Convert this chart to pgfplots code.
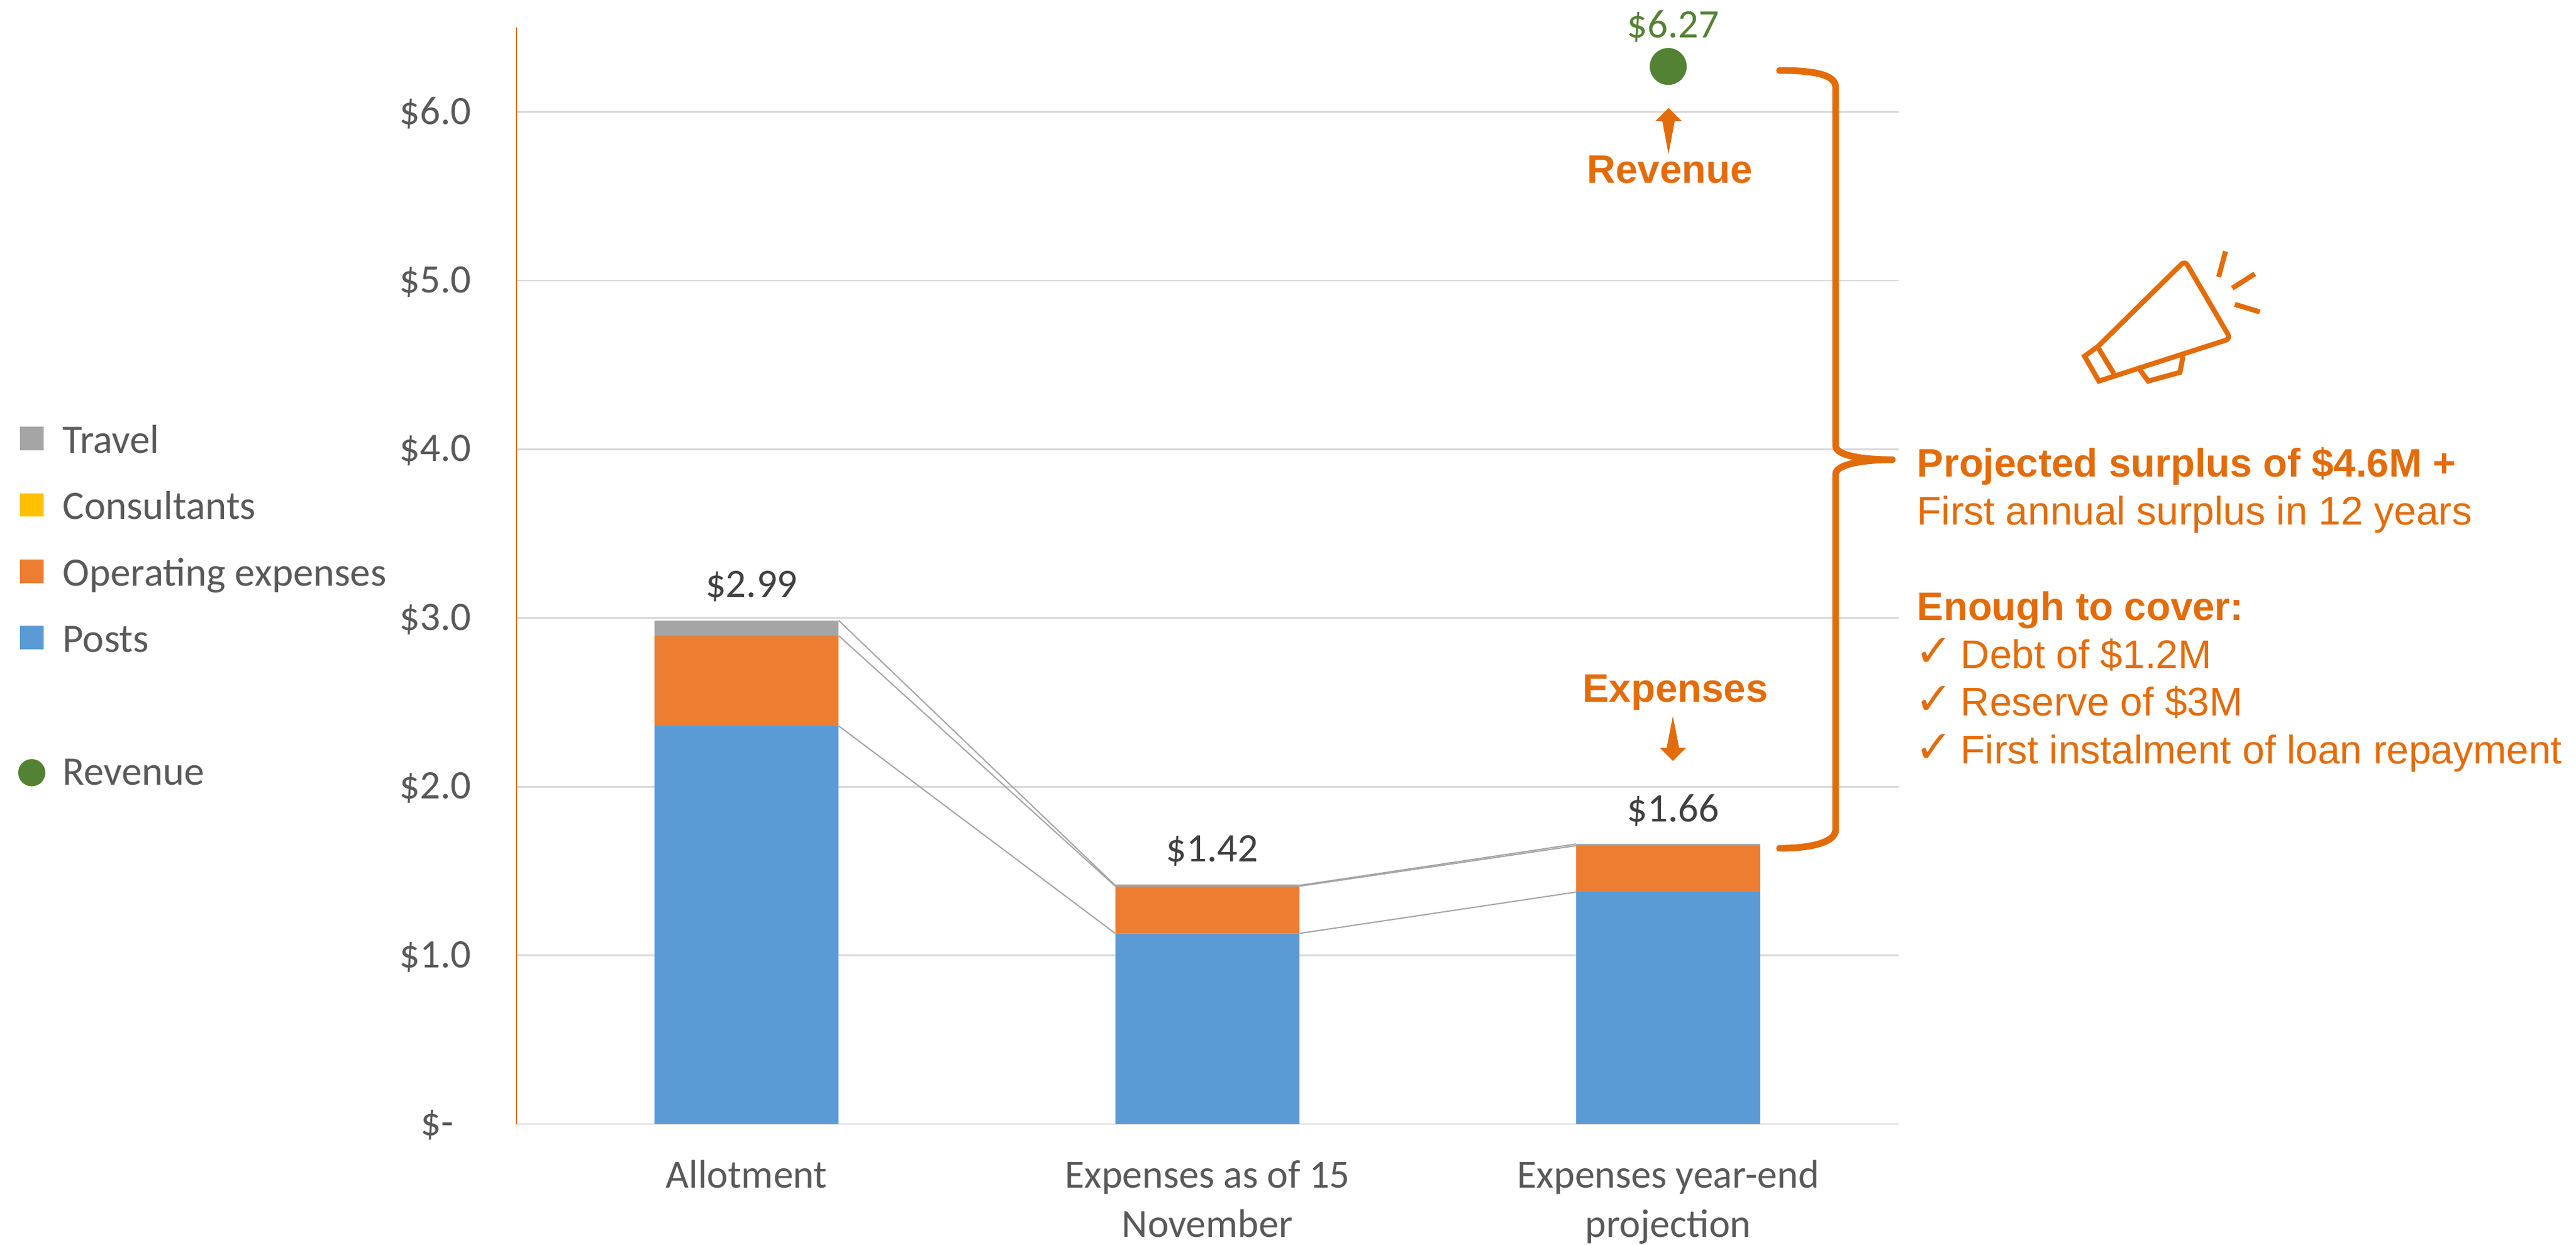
\documentclass[border=0pt]{standalone}
\usepackage{pgfplots}
\pgfplotsset{compat=1.18}
\usepackage{pgfplotstable}
\usepackage{fontspec}
\setmainfont{Carlito}
\newfontfamily\arial{Liberation Sans}
\newfontfamily\dejavu{DejaVu Sans}
\definecolor{posts}{HTML}{5B9BD5}
\definecolor{opex}{HTML}{ED7D31}
\definecolor{consult}{HTML}{FFC000}
\definecolor{travel}{HTML}{A5A5A5}
\definecolor{rev}{HTML}{548235}
\definecolor{note}{HTML}{E36C0A}
\definecolor{gridc}{HTML}{D9D9D9}
\definecolor{lab}{HTML}{595959}
\definecolor{dark}{HTML}{404040}
\pgfplotstableread{
x posts opex consult travel
0 2.36 0.535 0.00 0.09
1 1.13 0.28 0.00 0.01
2 1.375 0.275 0.00 0.01
}\bars
\pgfplotstableread{
x y label
0 2.99 {\$2.99}
1 1.42 {\$1.42}
2 1.66 {\$1.66}
}\totals
\pgfplotstableread{
x y label
2 6.27 {\$6.27}
}\revenue
\pgfplotsset{
  sq/.style={legend image code/.code={\fill[##1] (0.75pt,-2.65pt) rectangle (9.75pt,6.35pt);}},
  ci/.style={legend image code/.code={\fill[##1] (5.25pt,0.9pt) circle (5.25pt);}},
  geom/.style={at={(206.875pt,48.25pt)}, anchor=south west,
    scale only axis, width=554.125pt, height=439.4pt,
    xmin=-0.5, xmax=2.5, ymin=0, ymax=6.5, clip=false},
}
\begin{document}
\begin{tikzpicture}
\useasboundingbox (0,0) rectangle (1032.5pt,498.75pt);
\begin{axis}[
  geom,
  ybar stacked, bar width=73.75pt,
  axis lines=left, axis line style={-},
  x axis line style={gridc,line width=0.7pt},
  y axis line style={note,line width=0.5pt},
  xtick={0,1,2},
  xticklabels={Allotment,{Expenses as of 15\\November},{Expenses year-end\\projection}},
  xticklabel style={align=center,font=\fontsize{16}{19.8}\selectfont,text=lab,yshift=-11pt},
  ytick={0,1,2,3,4,5,6},
  yticklabels={\$-\rule{7pt}{0pt},\$1.0,\$2.0,\$3.0,\$4.0,\$5.0,\$6.0},
  yticklabel style={font=\fontsize{16.2}{19}\selectfont,text=lab,xshift=-14.5pt,yshift=-0.5pt},
  major tick length=0pt,
  ymajorgrids, grid style={gridc,line width=0.7pt},
  legend cell align=left,
  legend style={at={(-0.3602,0.637)},anchor=north west,draw=none,fill=none,inner sep=0pt,outer sep=0pt,
    font=\fontsize{16.2}{19}\selectfont,text=lab,
    row sep=12.6pt, nodes={inner sep=0pt, text height=11pt, text depth=3pt},
    /tikz/every odd column/.append style={column sep=7pt}},
]
\addlegendimage{sq,travel}\addlegendentry{Travel}
\addlegendimage{sq,consult}\addlegendentry{Consultants}
\addlegendimage{sq,opex}\addlegendentry{Operating expenses}
\addlegendimage{sq,posts}\addlegendentry{Posts}
\addlegendimage{empty legend}\addlegendentry{}
\addlegendimage{ci,rev}\addlegendentry{Revenue}

\addplot[forget plot,draw=none,fill=posts] table[x=x,y=posts]{\bars};
\addplot[forget plot,draw=none,fill=opex] table[x=x,y=opex]{\bars};
\addplot[forget plot,draw=none,fill=consult] table[x=x,y=consult]{\bars};
\addplot[forget plot,draw=none,fill=travel] table[x=x,y=travel]{\bars};
\end{axis}
\begin{axis}[geom, axis lines=none]
% series lines between the bars
\addplot[travel,line width=0.5pt] coordinates {(0.2,2.985)(0.8,1.415)(1.2,1.415)(1.8,1.66)};
\addplot[travel,line width=0.5pt] coordinates {(0.2,2.895)(0.8,1.41)(1.2,1.41)(1.8,1.65)};
\addplot[travel,line width=0.5pt] coordinates {(0.2,2.36)(0.8,1.13)};
\addplot[travel,line width=0.5pt] coordinates {(1.2,1.13)(1.8,1.375)};
% totals
\addplot[only marks,mark=none,
  nodes near coords, point meta=explicit symbolic,
  nodes near coords style={anchor=center,xshift=2pt,yshift=13.4pt,font=\fontsize{16.2}{19}\selectfont,text=dark}]
  table[x=x,y=y,meta=label]{\totals};
% revenue
\addplot[only marks,mark=*,mark size=7.2pt,
  mark options={fill=rev,draw=rev},
  nodes near coords, point meta=explicit symbolic,
  nodes near coords style={anchor=center,xshift=2pt,yshift=16.2pt,font=\fontsize{16.2}{19}\selectfont,text=rev}]
  table[x=x,y=y,meta=label]{\revenue};
\end{axis}
\begin{scope}[x=0.25pt,y=-0.25pt,yshift=498.75pt]
  % brace
  \draw[note,line width=2.7pt,line cap=round,line join=round]
    (2853,113) .. controls (2910,113) and (2943,120) .. (2943,140)
    -- (2943,715) .. controls (2943,730) and (2985,737) .. (3034,737)
    .. controls (2985,737) and (2943,745) .. (2943,760)
    -- (2943,1330) .. controls (2943,1350) and (2905,1360) .. (2853,1360);
  % arrows
  \fill[note] (2675,173) -- (2696,194) -- (2685,194) -- (2675,247) -- (2665,194) -- (2654,194) -- cycle;
  \fill[note] (2682,1220) -- (2703,1199) -- (2692,1199) -- (2682,1148) -- (2672,1199) -- (2661,1199) -- cycle;
  % megaphone
  \draw[note,line width=2pt,line join=miter,line cap=butt]
    (3363,556) [rounded corners=2pt] -- (3503,418) -- (3576,543) [sharp corners] -- (3365,611) -- (3342,571) -- (3363,556) -- (3389,599);
  \draw[note,line width=2pt,line join=miter] (3428,589) -- (3444,611) -- (3495,597) -- (3500,571);
  \draw[note,line width=2pt] (3568,403) -- (3557,444);
  \draw[note,line width=2pt] (3615,439) -- (3579,462);
  \draw[note,line width=2pt] (3583,488) -- (3623,500);
  % texts
  \tikzset{t/.style={anchor=base west,inner sep=0pt,text=note,font=\arial\fontsize{16}{19}\selectfont},
    b/.style={t,font=\arial\bfseries\fontsize{15.9}{19}\selectfont},
    c/.style={t,font=\dejavu\fontsize{18}{19}\selectfont}}
  \node[b,anchor=base] at (2677,294) {Revenue};
  \node[b,anchor=base] at (2686,1125) {Expenses};
  \node[b] at (3073,764) {Projected surplus of \$4.6M +};
  \node[t] at (3073,841) {First annual surplus in 12 years};
  \node[b] at (3073,994) {Enough to cover:};
  \node[c] at (3070,1068) {✓};
  \node[t] at (3143,1071) {Debt of \$1.2M};
  \node[c] at (3070,1145) {✓};
  \node[t] at (3143,1147) {Reserve of \$3M};
  \node[c] at (3070,1222) {✓};
  \node[t] at (3143,1224) {First instalment of loan repayment};
\end{scope}
\end{tikzpicture}
\end{document}
